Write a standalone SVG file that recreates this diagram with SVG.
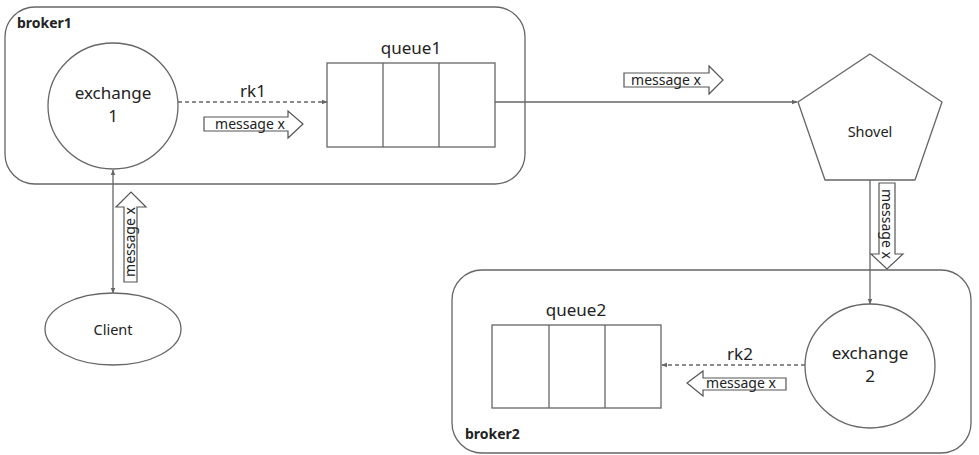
<svg xmlns="http://www.w3.org/2000/svg" width="979" height="455" viewBox="0 0 979 455">
<defs>
<marker id="ah" viewBox="0 0 10 10" refX="9" refY="5" markerWidth="6" markerHeight="6" orient="auto-start-reverse" markerUnits="userSpaceOnUse">
<path d="M0,1 L10,5 L0,9 z" fill="#666"/>
</marker>
<style>
.shape{fill:#fff;stroke:#666;stroke-width:1.3}
.box{fill:none;stroke:#666;stroke-width:1.3}
.ln{fill:none;stroke:#666;stroke-width:1.3}
.dash{fill:none;stroke:#666;stroke-width:1.3;stroke-dasharray:4 3}
.blk{fill:#fff;stroke:#555;stroke-width:1.2}
.t{font-family:"Noto Sans","Liberation Sans",sans-serif;fill:#222;text-anchor:middle}
.big{font-size:17px}
.mid{font-size:14.5px}
.sm{font-size:14px}
.bold{font-family:"Noto Sans","Liberation Sans",sans-serif;font-size:14px;font-weight:bold;fill:#222}
</style>
</defs>
<rect width="979" height="455" fill="#fff"/>
<g id="broker1">
<rect class="box" x="5" y="7" width="520" height="177" rx="30"/>
<text class="bold" x="17" y="28">broker1</text>
</g>
<g id="broker2">
<rect class="box" x="452" y="270" width="519" height="183" rx="30"/>
<text class="bold" x="465" y="439">broker2</text>
</g>
<g id="connectors">
<line class="dash" x1="178" y1="102" x2="327" y2="102" marker-end="url(#ah)"/>
<line class="ln" x1="495" y1="102" x2="797" y2="102" marker-end="url(#ah)"/>
<line class="ln" x1="870" y1="180" x2="870" y2="304" marker-end="url(#ah)"/>
<line class="dash" x1="805" y1="365" x2="662" y2="365" marker-end="url(#ah)"/>
<line class="ln" x1="113" y1="170" x2="113" y2="293" marker-start="url(#ah)" marker-end="url(#ah)"/>
<text class="t big" x="253" y="97">rk1</text>
<text class="t big" x="740" y="360">rk2</text>
<g id="msg1">
<path class="blk" d="M204,117 L288,117 L288,111 L303,124 L288,138 L288,131 L204,131 z"/>
<text class="t sm" x="250" y="129">message x</text>
</g>
<g id="msg2">
<path class="blk" d="M624,73 L709,73 L709,66 L723,80 L709,94 L709,87 L624,87 z"/>
<text class="t sm" x="666" y="85">message x</text>
</g>
<g id="msg3">
<path class="blk" d="M879,183 L895,183 L895,254 L903,254 L887,269 L871,254 L879,254 z"/>
<text class="t sm" transform="translate(882,224) rotate(90)">message x</text>
</g>
<g id="msg4">
<path class="blk" d="M786,378 L703,378 L703,371 L687,383 L703,396 L703,390 L786,390 z"/>
<text class="t sm" x="741" y="388">message x</text>
</g>
<g id="msg5">
<path class="blk" d="M124,282 L124,207 L116,207 L131,192 L146,207 L137,207 L137,282 z"/>
<text class="t sm" transform="translate(135,242) rotate(-90)">message x</text>
</g>
</g>
<g id="exchange1">
<ellipse class="shape" cx="113" cy="106" rx="65" ry="63"/>
<text class="t big" x="113" y="99">exchange</text>
<text class="t big" x="113" y="122">1</text>
</g>
<g id="queue1">
<text class="t big" x="411" y="54">queue1</text>
<rect class="box" x="327" y="63" width="168" height="84"/>
<line class="ln" x1="383" y1="63" x2="383" y2="147"/>
<line class="ln" x1="439" y1="63" x2="439" y2="147"/>
</g>
<g id="shovel">
<polygon class="shape" points="870,54 942,102 915,180 825,180 798,102"/>
<text class="t mid" x="870" y="137">Shovel</text>
</g>
<g id="exchange2">
<ellipse class="shape" cx="870" cy="366" rx="65" ry="62"/>
<text class="t big" x="870" y="359">exchange</text>
<text class="t big" x="870" y="382">2</text>
</g>
<g id="queue2">
<text class="t big" x="576" y="316">queue2</text>
<rect class="box" x="492" y="325" width="169" height="83"/>
<line class="ln" x1="549" y1="325" x2="549" y2="408"/>
<line class="ln" x1="605" y1="325" x2="605" y2="408"/>
</g>
<g id="client">
<ellipse class="shape" cx="113" cy="329" rx="68" ry="36"/>
<text class="t mid" x="113" y="335">Client</text>
</g>
</svg>
